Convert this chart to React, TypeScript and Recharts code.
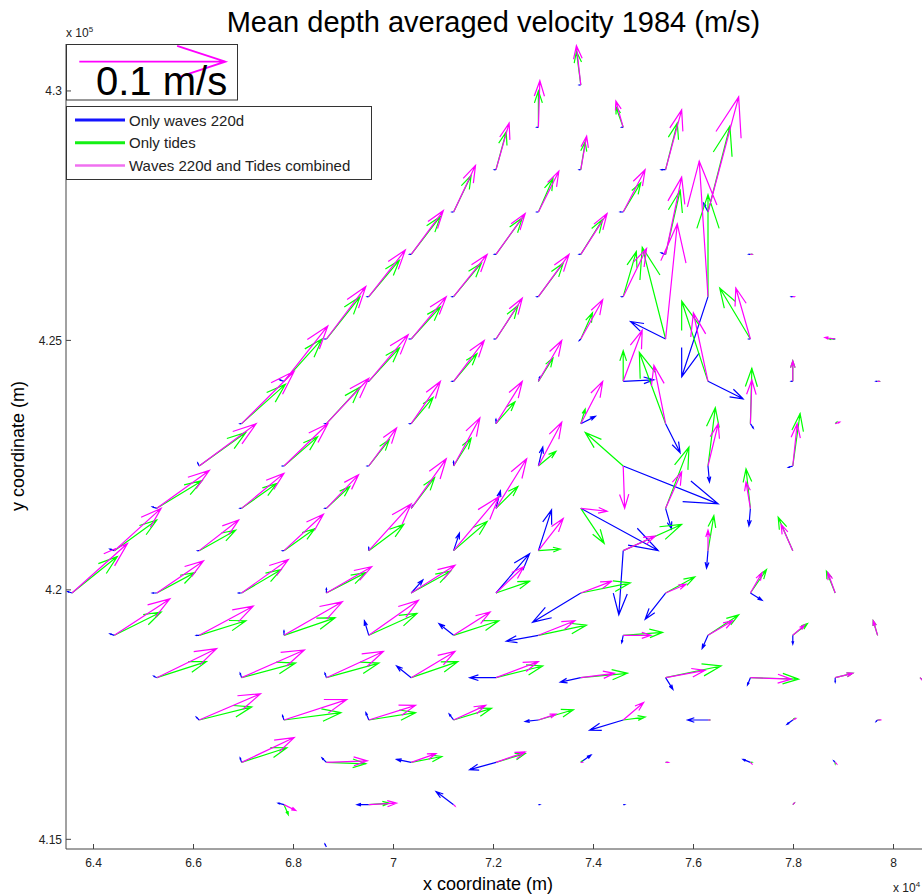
import { LineChart, Line, XAxis, YAxis, Legend } from 'recharts';

// model grid (m): columns west->east, rows south->north
const gridX = [63570, 64418, 65266, 66114, 66962, 67810, 68658, 69506, 70354, 71202, 72050,
  72898, 73746, 74594, 75442, 76290, 77138, 77986, 78834, 79682, 80530];
const gridY = [414846, 415695, 416543, 417392, 418240, 419089, 419937, 420786, 421634, 422483,
  423331, 424180, 425028, 425877, 426725, 427574, 428422, 429271, 430119];

// stations that carry an arrow, listed north to south
const stationRows = [18, 17, 16, 15, 14, 13, 12, 11, 10, 9, 8, 7, 6, 5, 4, 3, 2, 1, 0];
const stationCols = [
  [12],
  [11, 13],
  [10, 12, 14],
  [9, 11, 13, 15],
  [8, 10, 12, 14, 16],
  [7, 9, 11, 13, 15, 17],
  [6, 8, 10, 12, 14, 16, 18],
  [5, 7, 9, 11, 13, 15, 17, 19],
  [4, 6, 8, 10, 12, 14, 16, 18],
  [3, 5, 7, 9, 11, 13, 15, 17],
  [2, 4, 6, 8, 10, 12, 14, 16],
  [1, 3, 5, 7, 9, 11, 13, 15, 17],
  [0, 2, 4, 6, 8, 10, 12, 14, 16, 18],
  [1, 3, 5, 7, 9, 11, 13, 15, 17, 19],
  [2, 4, 6, 8, 10, 12, 14, 16, 18, 20],
  [3, 5, 7, 9, 11, 13, 15, 17, 19],
  [4, 6, 8, 10, 12, 14, 16, 18],
  [5, 7, 9, 11, 13, 17],
  [6],
];

// mean velocities [u, v] in cm/s, same order as the stations
const wavesOnly = [
  [-0.1, 0],
  [-0.1, 0], [-0.1, 0],
  [-0.1, 0], [-0.1, 0], [-0.3, 0],
  [-0.1, 0], [-0.1, 0], [-0.2, 0], [-0.3, 0.6],
  [-0.1, 0], [-0.1, 0], [-0.1, 0], [-0.3, 0.1], [-0.1, 0],
  [-0.1, 0], [-0.1, 0], [-0.1, 0], [-0.1, 0], [-1.8, -5.5], [-0.1, 0],
  [-0.1, 0], [-0.1, 0], [-0.1, 0], [-0.1, -0.1], [-2.4, 1.2], [-0.1, 0], [-0.1, 0],
  [-0.3, 0.1], [-0.1, 0], [-0.1, 0], [0.1, 0.3], [2.1, 0.1], [2.4, -1.2], [-0.1, 0], [-0.1, 0],
  [-0.1, 0], [-0.1, 0], [-0.1, 0], [0, 0.3], [1.0, 0.5], [1.0, -2.0], [0.2, -0.3], [0, 0],
  [-0.1, 0.2], [-0.1, 0], [-0.1, 0], [0, 0.3], [0.3, 1.3], [6.5, -2.6], [0.1, -1.1], [-0.3, -0.1],
  [-0.3, 0.1], [-0.1, 0], [-0.1, 0], [0.1, 0.2], [0.3, 1.2], [5.3, -2.9], [0.4, -1.4], [-0.1, -1.2],
  [-0.3, 0.1], [-0.1, 0], [-0.1, 0], [0, 0.2], [0.4, 1.2], [0.9, 2.8], [-0.3, -4.4], [-0.1, -1.2], [0, 0],
  [-0.3, 0.1], [-0.3, 0], [-0.2, 0], [0, 0.3], [0.8, 0.9], [2.3, 2.7], [-3.3, -2.0], [-1.4, -1.8], [0.8, -0.5], [0, 0],
  [-0.3, 0.1], [-0.2, 0], [0, 0.3], [-0.3, 1.0], [-1.0, 0.8], [-2.2, -0.4], [-0.1, -0.5], [-0.4, -0.9], [0, -0.6], [0, 0],
  [-0.2, 0.1], [-0.1, 0.3], [-0.1, 0.3], [-1.0, 0.8], [-1.8, 0], [-1.4, -0.3], [0.5, -0.8], [-0.2, -0.5], [0, -0.3], [0, 0],
  [-0.2, 0.2], [-0.1, 0.3], [-0.2, 0.5], [-0.3, 0.4], [-0.9, -0.1], [-2.3, -0.7], [-1.4, 0], [-0.4, -0.3], [-0.1, -0.1],
  [-0.1, 0.3], [-0.3, 0.3], [-1.0, 0.2], [-1.8, -0.5], [0.7, 0.5], [0, 0], [-0.5, 0.2], [-0.1, 0.1],
  [-0.4, 0.1], [-0.8, 0], [-1.2, 0.9], [0.1, 0], [0.1, 0], [0, 0],
  [-0.1, 0.2],
];

const tidesOnly = [
  [-0.3, 2.3],
  [0, 2.5], [-0.5, 1.4],
  [0.7, 2.6], [0.3, 1.9], [0.8, 3.2],
  [1.2, 2.5], [1.0, 2.3], [1.2, 2.0], [1.5, 5.9],
  [2.0, 2.6], [1.8, 2.5], [1.5, 2.4], [1.0, 4.4], [0.1, 0],
  [2.1, 2.5], [1.9, 2.3], [1.7, 2.3], [0.9, 3.1], [0, 7.0], [0, 0],
  [2.3, 2.9], [2.0, 2.2], [1.5, 2.3], [0.8, 1.8], [-1.6, 6.3], [-2.1, 3.5], [-0.4, 0],
  [2.6, 2.9], [2.1, 2.3], [1.6, 1.9], [1.0, 1.6], [0, 2.1], [-1.8, 5.5], [0, 1.4], [0.1, 0],
  [3.0, 2.7], [2.3, 2.5], [1.5, 1.8], [1.3, 1.5], [0.3, 1.0], [-1.8, 4.9], [0.1, 3.8], [0.1, 0.1],
  [3.2, 2.3], [2.3, 2.0], [1.4, 1.8], [1.2, 1.9], [1.2, 1.0], [-2.6, 2.3], [0.5, 4.0], [0.5, 3.6],
  [3.1, 1.9], [2.4, 1.7], [1.6, 1.5], [1.6, 2.1], [1.5, 1.5], [1.6, -2.4], [1.6, 4.2], [-0.3, 2.7],
  [2.9, 2.1], [2.5, 1.4], [2.1, 1.5], [2.4, 1.8], [2.3, 2.0], [1.5, 0.1], [4.0, 1.8], [0.4, 2.4], [-1.0, 2.3],
  [3.1, 2.5], [2.6, 1.4], [2.7, 1.6], [2.7, 1.4], [2.7, 1.5], [2.3, 0.8], [3.4, 0.7], [2.0, 1.1], [1.1, 1.6], [-0.6, 1.5],
  [3.2, 1.6], [3.2, 1.0], [3.5, 1.2], [3.3, 1.5], [3.1, 1.0], [3.3, 0.7], [2.7, 0.2], [2.1, 1.4], [1.0, 0.8], [-0.3, 1.0],
  [3.4, 1.1], [3.7, 1.0], [3.6, 1.0], [3.2, 1.1], [3.2, 0.8], [3.2, 0.3], [3.8, 0.8], [3.3, -0.1], [1.2, 0.3], [0.1, -0.1],
  [3.6, 0.9], [3.9, 0.5], [3.2, 0.5], [2.6, 0.8], [2.4, 0.7], [1.5, 0.2], [0.1, 0], [0.1, 0.1], [0.1, 0],
  [3.1, 1.0], [2.7, -0.1], [2.1, 0.4], [2.0, 0.6], [0.1, 0.1], [0.1, 0], [0.1, 0], [0, -0.1],
  [0.3, -0.7], [1.4, 0.1], [0, 0], [0, 0], [0, 0], [0.1, 0.1],
  [0, 0],
];

const combined = [
  [-0.3, 2.7],
  [0.1, 3.2], [-0.5, 1.8],
  [0.9, 3.2], [0.4, 2.3], [1.1, 4.1],
  [1.5, 3.2], [1.4, 2.8], [1.5, 2.9], [2.1, 7.9],
  [2.2, 3.0], [2.0, 2.8], [1.8, 2.8], [1.1, 5.3], [0.1, 0],
  [2.5, 3.2], [2.3, 2.9], [2.1, 2.9], [1.6, 3.3], [-0.6, 9.3], [0.1, 0],
  [2.7, 3.6], [2.4, 2.9], [1.8, 2.8], [1.5, 2.7], [0.8, 7.9], [-1.0, 3.5], [-0.7, 0.1],
  [3.0, 3.8], [2.7, 3.2], [2.1, 2.8], [1.6, 2.8], [1.3, 3.5], [-1.0, 4.7], [0, 1.4], [0.1, 0],
  [3.6, 3.6], [2.9, 3.1], [2.0, 2.9], [1.8, 2.9], [1.5, 2.9], [-0.8, 4.0], [0.1, 3.0], [0.3, 0.1],
  [3.9, 2.9], [3.0, 2.9], [1.9, 2.6], [1.8, 3.3], [1.6, 3.0], [0.1, -2.9], [0.7, 2.9], [0.3, 2.9],
  [3.6, 2.6], [2.9, 2.4], [2.2, 2.3], [2.4, 3.4], [2.1, 3.4], [1.8, -0.2], [1.1, 2.5], [-0.3, 1.8],
  [3.2, 2.9], [2.7, 2.1], [2.7, 2.5], [2.9, 3.2], [3.1, 3.7], [1.7, 2.2], [2.2, 1.0], [0, 1.4], [-0.8, 1.8],
  [3.8, 3.4], [3.2, 2.2], [3.2, 2.3], [3.1, 1.8], [3.0, 1.9], [1.9, 1.8], [2.1, 0.8], [1.4, 0.6], [0.8, 1.4], [-0.5, 1.4],
  [3.8, 2.5], [3.7, 2.0], [4.0, 2.3], [3.4, 2.4], [2.5, 1.6], [2.5, 1.0], [1.9, 0], [1.7, 1.0], [0.8, 0.7], [-0.3, 1.0],
  [4.1, 2.0], [4.3, 1.9], [3.9, 1.8], [3.0, 1.8], [2.9, 1.1], [2.3, 0.3], [2.7, 0.5], [2.8, -0.1], [1.2, 0.3], [0.2, -0.2],
  [4.2, 1.8], [4.3, 1.4], [3.2, 1.0], [2.2, 1.0], [1.2, 0.4], [1.4, 1.2], [0.1, 0], [0.2, 0.1], [0.2, 0],
  [3.6, 1.7], [2.8, 0.1], [1.7, 0.6], [2.0, 0.7], [0.1, 0], [0.2, 0], [0.1, -0.1], [0.1, -0.1],
  [0.8, -0.4], [1.9, 0.1], [0.1, -0.1], [0, 0], [0, 0], [0.1, 0.1],
  [0, 0],
];

// reference arrow: 0.1 m/s drawn near the top-left corner
const scaleArrowOrigin = [63716, 430587];
const scaleArrowSpeed = 10; // cm/s

const xTicks = [64000, 66000, 68000, 70000, 72000, 74000, 76000, 78000, 80000];
const yTicks = [415000, 420000, 425000, 430000];

const seriesNames = ['Only waves 220d', 'Only tides', 'Waves 220d and Tides combined'];

const M_PER_CMS = 292; // quiver scale: metres of arrow per cm/s
const HEAD = 0.33;

type Pt = { x: number; y: number | null };

function arrow(x0: number, y0: number, u: number, v: number): Pt[] {
  const du = u * M_PER_CMS;
  const dv = v * M_PER_CMS;
  const tx = x0 + du;
  const ty = y0 + dv;
  return [
    { x: x0, y: y0 },
    { x: tx, y: ty },
    { x: tx - HEAD * (du + HEAD * dv), y: ty - HEAD * (dv - HEAD * du) },
    { x: tx, y: ty },
    { x: tx - HEAD * (du - HEAD * dv), y: ty - HEAD * (dv + HEAD * du) },
    { x: tx, y: null },
  ];
}

const stations: [number, number][] = [];
stationRows.forEach((r, i) => stationCols[i].forEach((c) => stations.push([gridX[c], gridY[r]])));

function quiver(vectors: number[][]): Pt[] {
  const pts: Pt[] = [];
  stations.forEach(([x, y], i) => pts.push(...arrow(x, y, vectors[i][0], vectors[i][1])));
  return pts;
}

const wavesPts = quiver(wavesOnly);
const tidesPts = quiver(tidesOnly);
const combinedPts = quiver(combined);
const scalePts = arrow(scaleArrowOrigin[0], scaleArrowOrigin[1], scaleArrowSpeed, 0);

// legend swatches are drawn a little heavier than the quiver lines
const legendLook: Record<string, { color: string; width: number }> = {
  'Only waves 220d': { color: '#1414ff', width: 3 },
  'Only tides': { color: '#14f014', width: 3 },
  'Waves 220d and Tides combined': { color: '#f070f0', width: 2.5 },
};

function QuiverLegend(props: any) {
  const items = (props.payload || []).filter((p: any) => p.type !== 'none');
  items.sort((a: any, b: any) => seriesNames.indexOf(a.value) - seriesNames.indexOf(b.value));
  return (
    <svg width={306} height={74} style={{ display: 'block' }}>
      <rect x={0.5} y={0.5} width={305} height={73} fill="#fff" stroke="#333" />
      {items.map((p: any, i: number) => {
        const y = 14 + i * 22.7;
        const look = legendLook[p.value] || { color: p.color, width: 2 };
        return (
          <g key={p.value}>
            <line x1={9} x2={59} y1={y} y2={y} stroke={look.color} strokeWidth={look.width} />
            <text x={63} y={y + 5.5} fontSize={15} fill="#222">{p.value}</text>
          </g>
        );
      })}
    </svg>
  );
}

const noLabel = () => <g />;

export default function App() {
  return (
    <div style={{ position: 'absolute', left: 0, top: 0, width: 923, height: 896, background: '#fff',
      fontFamily: '"Liberation Sans", Arial, sans-serif' }}>
      <LineChart width={923} height={896} margin={{ top: 44, right: 1, bottom: 0, left: 0 }}>
        <XAxis dataKey="x" type="number" domain={[63450, 80570]} allowDataOverflow ticks={xTicks} interval={0}
          height={47} stroke="#444" tickSize={-5} tickMargin={14}
          tick={{ fontSize: 12, fill: '#222' }}
          tickFormatter={(v: number) => String(parseFloat((v / 1e4).toFixed(3)))} />
        <XAxis xAxisId="top" orientation="top" type="number" domain={[63450, 80570]} allowDataOverflow
          ticks={xTicks} interval={0} height={0} stroke="#444" tickSize={-5} tick={noLabel} />
        <YAxis type="number" domain={[414806, 430941]} allowDataOverflow ticks={yTicks} interval={0}
          width={66} stroke="#444" tickSize={-5} tickMargin={9}
          tick={{ fontSize: 12, fill: '#222' }}
          tickFormatter={(v: number) => String(parseFloat((v / 1e5).toFixed(3)))} />
        <YAxis yAxisId="right" orientation="right" type="number" domain={[414806, 430941]} allowDataOverflow
          ticks={yTicks} interval={0} width={0} stroke="#444" tickSize={-5} tick={noLabel} />
        <Legend layout="vertical" align="center" verticalAlign="middle" content={QuiverLegend}
          itemSorter={null as any}
          wrapperStyle={{ left: 66, top: 106, width: 306, height: 74 }} />
        <Line data={wavesPts} dataKey="y" name={seriesNames[0]} stroke="#0000ff" strokeWidth={1.2}
          dot={false} activeDot={false} connectNulls={false} isAnimationActive={false} />
        <Line data={tidesPts} dataKey="y" name={seriesNames[1]} stroke="#00ff00" strokeWidth={1.2}
          dot={false} activeDot={false} connectNulls={false} isAnimationActive={false} />
        <Line data={combinedPts} dataKey="y" name={seriesNames[2]} stroke="#ff00ff" strokeWidth={1.2}
          dot={false} activeDot={false} connectNulls={false} isAnimationActive={false} />
        <Line data={scalePts} dataKey="y" name="scale" legendType="none" stroke="#ff00ff" strokeWidth={1.8}
          dot={false} activeDot={false} connectNulls={false} isAnimationActive={false} />
      </LineChart>
      <svg width={923} height={896} style={{ position: 'absolute', left: 0, top: 0, pointerEvents: 'none' }}>
        <text x={493.5} y={32} textAnchor="middle" fontSize={29} fill="#000">
          Mean depth averaged velocity 1984 (m/s)
        </text>
        <text x={66} y={37} fontSize={12} fill="#222">
          x 10<tspan fontSize={8} dy={-5}>5</tspan>
        </text>
        <text x={893} y={892} fontSize={12} fill="#222">
          x 10<tspan fontSize={8} dy={-5}>4</tspan>
        </text>
        <text x={488} y={890} textAnchor="middle" fontSize={18} fill="#000">x coordinate (m)</text>
        <text x={24} y={446} transform="rotate(-90 24 446)" textAnchor="middle" fontSize={18} fill="#000">
          y coordinate (m)
        </text>
        <rect x={66.5} y={44.5} width={171} height={55.5} fill="none" stroke="#333" />
        <text x={96} y={95} fontSize={40} fill="#000">0.1 m/s</text>
      </svg>
    </div>
  );
}
